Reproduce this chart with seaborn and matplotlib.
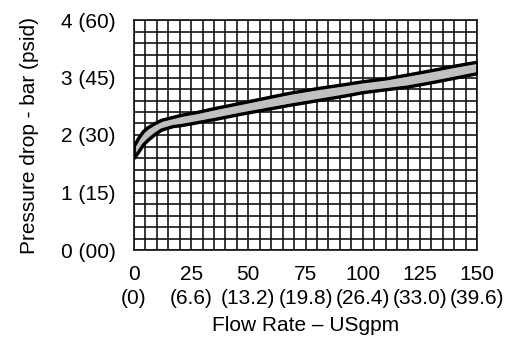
import matplotlib
matplotlib.use("Agg")
import matplotlib.pyplot as plt
from matplotlib.ticker import MultipleLocator, FixedLocator
import seaborn as sns
import pandas as pd

# flow rate (USgpm) and the two edges of the pressure drop band (bar)
flow = [0, 2, 4, 6, 9, 12, 17, 21, 28, 36, 46, 57, 68, 80, 92, 100, 110, 120, 131, 140, 150]
upper = [1.81, 1.95, 2.06, 2.13, 2.20, 2.26, 2.31, 2.35, 2.40, 2.47, 2.55, 2.64, 2.73, 2.81,
         2.88, 2.93, 2.98, 3.05, 3.13, 3.20, 3.27]
lower = [1.60, 1.71, 1.83, 1.91, 2.01, 2.09, 2.15, 2.17, 2.22, 2.28, 2.36, 2.44, 2.52, 2.60,
         2.68, 2.74, 2.79, 2.84, 2.92, 2.99, 3.07]

x_ticks = [0, 25, 50, 75, 100, 125, 150]
x_labels = ["0\n(0)", "25\n(6.6)", "50\n(13.2)", "75\n(19.8)", "100\n(26.4)", "125\n(33.0)", "150\n(39.6)"]
y_ticks = [0, 1, 2, 3, 4]
y_labels = ["0 (00)", "1 (15)", "2 (30)", "3 (45)", "4 (60)"]

df = pd.DataFrame({"flow": flow, "upper": upper, "lower": lower})

sns.set_style("white")
plt.rcParams["font.family"] = ["Liberation Sans", "DejaVu Sans"]
plt.rcParams["font.size"] = 15
plt.rcParams["text.color"] = "black"
plt.rcParams["axes.labelcolor"] = "black"
plt.rcParams["xtick.color"] = "black"
plt.rcParams["ytick.color"] = "black"

fig = plt.figure(figsize=(5.25, 3.44), dpi=100)
ax = fig.add_axes([134 / 525, 1 - 250 / 344, (477 - 134) / 525, (250 - 20) / 344])

ax.fill_between(df["flow"], df["lower"], df["upper"], facecolor="#c0c0c0",
                edgecolor="black", linewidth=2, zorder=3)
sns.lineplot(data=df, x="flow", y="upper", color="black", lw=2, ax=ax, zorder=4)
sns.lineplot(data=df, x="flow", y="lower", color="black", lw=2, ax=ax, zorder=4)

ax.set_xlim(0, 150)
ax.set_ylim(0, 4)
ax.xaxis.set_major_locator(FixedLocator(x_ticks))
ax.set_xticklabels(x_labels, linespacing=1.3)
ax.xaxis.set_minor_locator(MultipleLocator(5))
ax.yaxis.set_major_locator(FixedLocator(y_ticks))
ax.set_yticklabels(y_labels)
ax.yaxis.set_minor_locator(MultipleLocator(0.2))

ax.grid(which="both", color="#141414", linewidth=1.2)
ax.set_axisbelow(True)
for s in ax.spines.values():
    s.set_color("#141414")
    s.set_linewidth(1.2)

ax.tick_params(axis="both", which="major", length=7, width=1.2, color="#141414")
ax.tick_params(axis="x", which="minor", length=3, width=1.2, color="#141414")
ax.tick_params(axis="y", which="minor", length=2, width=1.2, color="#141414")
ax.tick_params(axis="x", which="major", pad=4)
ax.tick_params(axis="y", which="major", pad=6)

ax.set_xlabel("Flow Rate \u2013 USgpm", labelpad=6)
ax.set_ylabel("Pressure drop - bar (psid)", labelpad=16)

fig.savefig("out.png", dpi=100)
